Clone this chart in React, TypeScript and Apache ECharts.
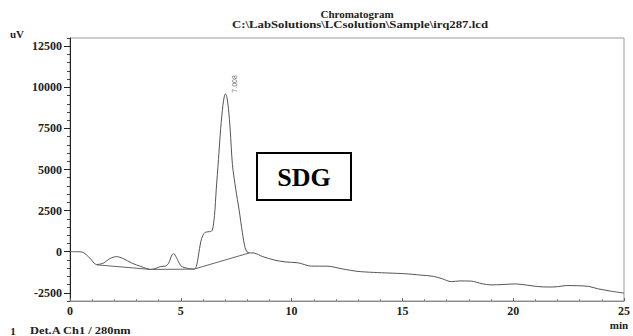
import React, { useEffect, useRef } from "react";
import * as echarts from "echarts";

// Chromatogram trace: [retention time (min), signal (uV)]
const traceTimes: number[] = [
  0, 0.3, 0.6, 0.9, 1.2, 1.5, 1.8, 2.1, 2.4, 2.8, 3.2, 3.65, 3.9, 4.1, 4.3, 4.45, 4.6, 4.68, 4.8, 5.0,
  5.2, 5.6, 5.7, 5.8, 5.9, 6.0, 6.1, 6.3, 6.42, 6.52, 6.6, 6.7, 6.8, 6.9, 6.97, 7.01, 7.08, 7.15, 7.23,
  7.33, 7.48, 7.63, 7.78, 7.9, 8.0, 8.1, 8.3, 8.7, 9.2, 9.7, 10.3, 10.9, 11.6, 12.3, 13.0, 13.7, 14.4,
  15.1, 15.8, 16.4, 16.8, 17.2, 17.6, 18.1, 18.6, 19.0, 19.5, 20.1, 20.6, 21.1, 21.6, 22.0, 22.4, 22.9,
  23.4, 23.8, 24.4, 25,
];
const traceValues: number[] = [
  0, 0, -50, -400, -780, -700, -420, -300, -420, -700, -900, -1080, -1000, -900, -880, -700, -200, -120,
  -350, -850, -980, -1060, -900, -200, 600, 1000, 1180, 1220, 1300, 2200, 3800, 5600, 7500, 8900, 9500,
  9600, 9400, 8700, 7400, 5300, 3800, 2550, 1150, 250, -30, -70, -80, -300, -500, -620, -680, -880, -880,
  -1050, -1200, -1260, -1300, -1340, -1420, -1500, -1650, -1820, -1780, -1790, -1950, -2020, -2000,
  -1960, -2030, -2120, -2150, -2130, -2060, -2070, -2110, -2250, -2400, -2520,
];

// Integration baseline drawn under the peaks
const baselineTimes: number[] = [1.2, 3.65, 5.6, 8.1];
const baselineValues: number[] = [-800, -1080, -1060, -70];

// Peak annotation
const peakTime = 7.01;
const peakValue = 9600;
const peakLabel = "7.008";

// Axes
const yLabelValues: number[] = [-2500, 0, 2500, 5000, 7500, 10000, 12500];
const yMin = -3000;
const yMax = 13000;
const xMin = 0;
const xMax = 25;

const SERIF = "'Liberation Serif', 'Times New Roman', serif";

export default function App() {
  const ref = useRef<HTMLDivElement>(null);

  useEffect(() => {
    if (!ref.current) return;
    const chart = echarts.init(ref.current, undefined, { renderer: "svg" });

    const trace = traceTimes.map((t, i) => [t, traceValues[i]]);
    const baseline = baselineTimes.map((t, i) => [t, baselineValues[i]]);

    const option: any = {
      animation: false,
      backgroundColor: "#ffffff",
      grid: {
        left: 70,
        right: 4,
        top: 38,
        bottom: 35,
        show: true,
        borderColor: "#999",
        borderWidth: 1,
        containLabel: false,
      },
      xAxis: {
        type: "value",
        min: xMin,
        max: xMax,
        interval: 5,
        axisLine: { show: true, onZero: false, lineStyle: { color: "#888", width: 1 } },
        axisTick: { show: true, inside: true, length: 3, lineStyle: { color: "#666" } },
        minorTick: { show: true, splitNumber: 5, length: 2, lineStyle: { color: "#888" } },
        splitLine: { show: false },
        axisLabel: {
          fontFamily: SERIF,
          fontWeight: "bold",
          fontSize: 12,
          color: "#222",
          margin: 4,
          formatter: (v: number) => String(v),
        },
      },
      yAxis: [
        {
          type: "value",
          min: yMin,
          max: yMax,
          interval: 500,
          axisLine: { show: true, onZero: false, lineStyle: { color: "#222", width: 1 } },
          axisTick: { show: true, inside: false, length: 3, lineStyle: { color: "#444" } },
          axisLabel: { show: false },
          splitLine: { show: false },
        },
        {
          type: "value",
          min: yMin,
          max: yMax,
          position: "left",
          axisLine: { show: false, onZero: false },
          axisTick: {
            show: true,
            inside: false,
            length: 6,
            customValues: yLabelValues,
            lineStyle: { color: "#222" },
          },
          axisLabel: {
            customValues: yLabelValues,
            fontFamily: SERIF,
            fontWeight: "bold",
            fontSize: 12,
            color: "#222",
            margin: 8,
            formatter: (v: number) => String(v),
          },
          splitLine: { show: false },
        },
      ],
      series: [
        {
          type: "line",
          data: trace,
          yAxisIndex: 0,
          showSymbol: false,
          symbol: "none",
          smooth: 0.3,
          lineStyle: { color: "#555", width: 1 },
          silent: true,
        },
        {
          type: "line",
          data: baseline,
          yAxisIndex: 0,
          showSymbol: false,
          symbol: "none",
          lineStyle: { color: "#666", width: 1 },
          silent: true,
        },
        {
          type: "scatter",
          data: [[peakTime, peakValue]],
          yAxisIndex: 0,
          symbolSize: 1,
          itemStyle: { color: "rgba(0,0,0,0)" },
          label: {
            show: true,
            formatter: peakLabel,
            position: "inside",
            rotate: 90,
            offset: [10, 9],
            align: "center",
            verticalAlign: "middle",
            fontFamily: "'Liberation Sans', Arial, sans-serif",
            fontSize: 7,
            color: "#333",
          },
          silent: true,
        },
      ],
      graphic: [
        {
          type: "text",
          x: 357,
          y: 14,
          style: {
            text: "Chromatogram",
            fill: "#222",
            font: `bold 11px ${SERIF}`,
            textAlign: "center",
            textVerticalAlign: "middle",
          },
        },
        {
          type: "text",
          x: 360,
          y: 24.5,
          scaleX: 1.16,
          style: {
            text: "C:\\LabSolutions\\LCsolution\\Sample\\irq287.lcd",
            fill: "#222",
            font: `bold 11px ${SERIF}`,
            textAlign: "center",
            textVerticalAlign: "middle",
          },
        },
        {
          type: "text",
          x: 10,
          y: 33.5,
          style: {
            text: "uV",
            fill: "#222",
            font: `bold 11px ${SERIF}`,
            textAlign: "left",
            textVerticalAlign: "middle",
          },
        },
        {
          type: "text",
          x: 619,
          y: 324.5,
          style: {
            text: "min",
            fill: "#222",
            font: `bold 11px ${SERIF}`,
            textAlign: "center",
            textVerticalAlign: "middle",
          },
        },
        {
          type: "text",
          x: 13,
          y: 331,
          style: {
            text: "1",
            fill: "#222",
            font: `bold 11px ${SERIF}`,
            textAlign: "center",
            textVerticalAlign: "middle",
          },
        },
        {
          type: "text",
          x: 30,
          y: 331,
          scaleX: 1.13,
          style: {
            text: "Det.A Ch1 / 280nm",
            fill: "#222",
            font: `bold 11px ${SERIF}`,
            textAlign: "left",
            textVerticalAlign: "middle",
          },
        },
        {
          type: "rect",
          shape: { x: 257, y: 153, width: 94, height: 47 },
          style: { fill: "#fff", stroke: "#000", lineWidth: 2 },
        },
        {
          type: "text",
          x: 304,
          y: 177.5,
          style: {
            text: "SDG",
            fill: "#000",
            font: `bold 26px ${SERIF}`,
            textAlign: "center",
            textVerticalAlign: "middle",
          },
        },
      ],
    };

    chart.setOption(option);
    return () => {
      chart.dispose();
    };
  }, []);

  return (
    <div
      ref={ref}
      style={{ position: "fixed", left: 0, top: 0, width: 633, height: 336 }}
    />
  );
}
